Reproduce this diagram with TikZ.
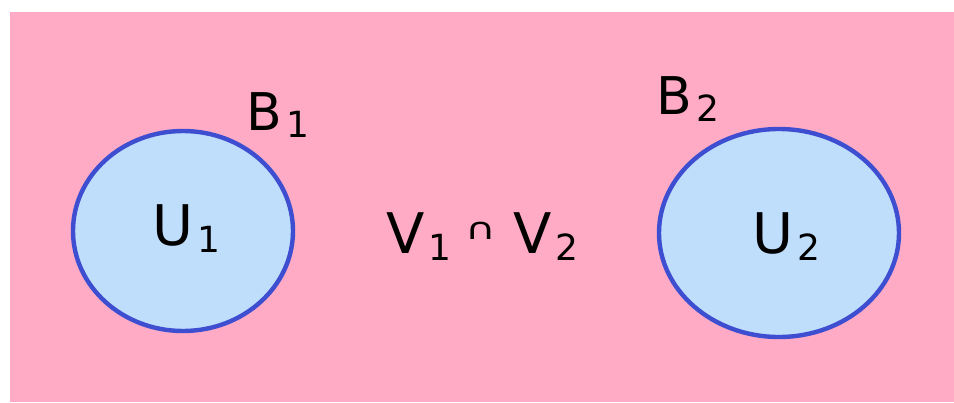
\documentclass[tikz,border=0pt]{standalone}
\usepackage{fontspec}
\setmainfont{DejaVu Sans}
\definecolor{setSpace}{HTML}{FFABC6}
\definecolor{setBall}{HTML}{BEDEFC}
\definecolor{setEdge}{HTML}{3D4ED0}
\newcommand{\subidx}[1]{\hspace{2pt}\raisebox{-3.5pt}{\fontsize{18}{18}\selectfont #1}}

\begin{document}
\begin{tikzpicture}[
    x=0.5pt,y=-0.5pt,
    every node/.style={font=\fontsize{28}{30}\selectfont,inner sep=0pt},
    space/.style={fill=setSpace},
    ball/.style={draw=setEdge,fill=setBall,line width=2.2pt},
    tag/.style={anchor=base west},
    btag/.style={tag,font=\fontsize{26}{28}\selectfont}
]
\useasboundingbox (0,0) rectangle (954,402);
\fill[space] (10,12) rectangle (954,402);

\draw[ball] (183,231) ellipse [x radius=110,y radius=100];
\draw[ball] (779,233) ellipse [x radius=120,y radius=104];

\node[tag] (ulabel1) at (152,245) {U\subidx{1}};
\node[tag] (ulabel2) at (752,253) {U\subidx{2}};
\node[btag] (blabel1) at (246,130) {B\subidx{1}};
\node[btag] (blabel2) at (656,114) {B\subidx{2}};
\node[tag] (meet) at (386,253)
    {V\subidx{1}\hspace{7pt}\raisebox{7pt}{\scalebox{1.4}[1]{\fontsize{15}{15}\selectfont ∩}}\hspace{8.5pt}V\subidx{2}};
\end{tikzpicture}
\end{document}
